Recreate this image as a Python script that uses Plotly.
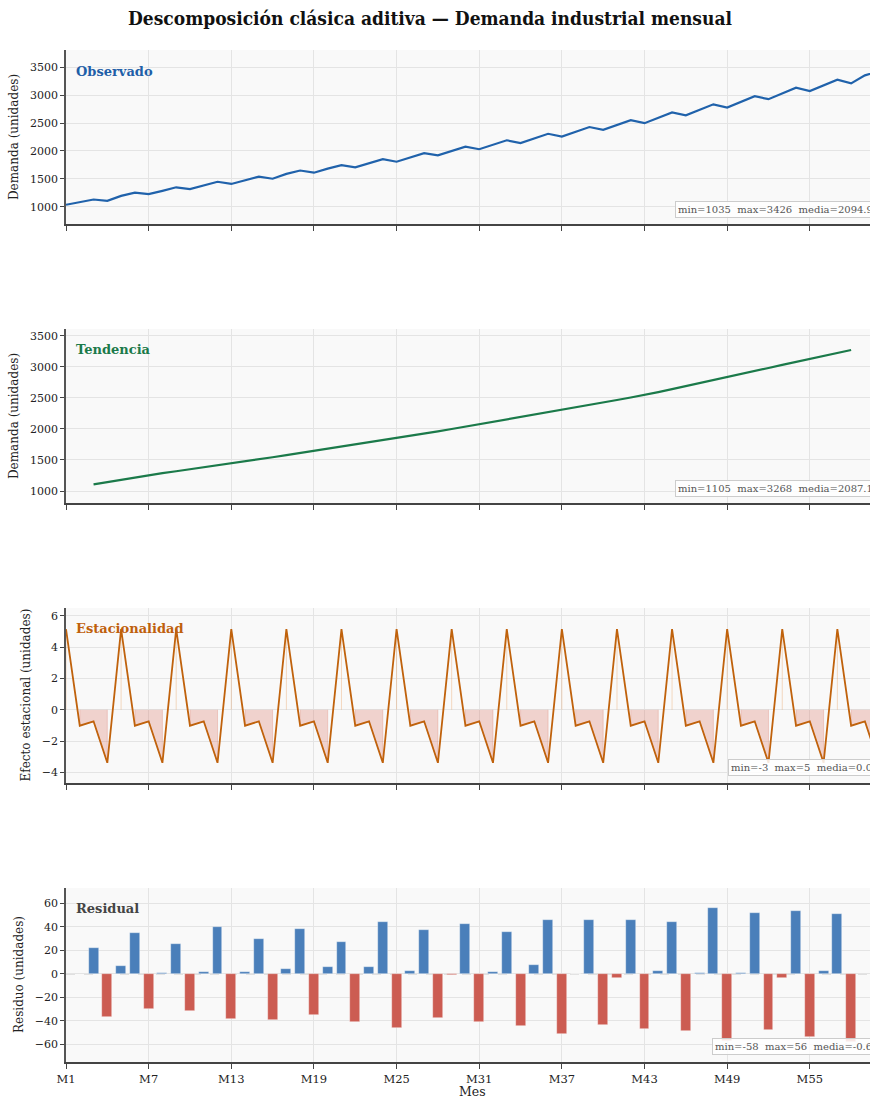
import plotly.graph_objects as go

W, H = 870, 1099

months = [f"M{i}" for i in range(1, 61)]
tick_months = ["M1", "M7", "M13", "M19", "M25", "M31", "M37", "M43", "M49", "M55"]

observed = [1035, 1078, 1129, 1105, 1194, 1253, 1225, 1284, 1348, 1316,
            1380, 1447, 1408, 1475, 1538, 1502, 1588, 1649, 1610, 1682,
            1745, 1705, 1786, 1854, 1807, 1888, 1960, 1920, 2002, 2077,
            2031, 2109, 2191, 2142, 2232, 2308, 2257, 2343, 2429, 2378,
            2467, 2551, 2498, 2592, 2690, 2638, 2735, 2836, 2778, 2880,
            2981, 2928, 3032, 3133, 3075, 3176, 3279, 3211, 3355, 3426]

trend = [None, None, 1108, 1145, 1182, 1219, 1256, 1287, 1318, 1349,
         1379, 1410, 1441, 1475, 1509, 1544, 1578, 1612, 1646, 1680,
         1713, 1747, 1781, 1814, 1848, 1886, 1923, 1961, 1998, 2036,
         2073, 2111, 2150, 2188, 2226, 2265, 2303, 2344, 2384, 2425,
         2465, 2506, 2546, 2593, 2641, 2688, 2735, 2783, 2830, 2880,
         2930, 2980, 3030, 3080, 3130, 3177, 3223, 3270, None, None]

seasonal = [5.15, -1.02, -0.74, -3.39, 5.15, -1.02, -0.74, -3.39, 5.15, -1.02,
            -0.74, -3.39, 5.15, -1.02, -0.74, -3.39, 5.15, -1.02, -0.74, -3.39,
            5.15, -1.02, -0.74, -3.39, 5.15, -1.02, -0.74, -3.39, 5.15, -1.02,
            -0.74, -3.39, 5.15, -1.02, -0.74, -3.39, 5.15, -1.02, -0.74, -3.39,
            5.15, -1.02, -0.74, -3.39, 5.15, -1.02, -0.74, -3.39, 5.15, -1.02,
            -0.74, -3.39, 5.15, -1.02, -0.74, -3.39, 5.15, -1.02, -0.74, -3.39]

residual = [None, None, 22, -37, 7, 35, -30, 0.5, 25, -32,
            1.5, 40, -38, 1.5, 30, -39, 4.5, 38, -35, 5.4,
            27, -40.6, 5.4, 43.7, -46, 2.6, 37.4, -37.2, -0.8, 42,
            -40.9, 1.7, 35.7, -44.5, 7.1, 46, -50.8, -0.3, 45.4, -43.7,
            -3.4, 46, -47, 2.6, 43.7, -49, 0.9, 56.2, -57, 0.6,
            51.6, -48.2, -3.4, 53.6, -53.9, 2.8, 51, -58, None, None]

stats_text = ["min=1035\u00a0\u00a0max=3426\u00a0\u00a0media=2094.9",
              "min=1105\u00a0\u00a0max=3268\u00a0\u00a0media=2087.1",
              "min=-3\u00a0\u00a0max=5\u00a0\u00a0media=0.0",
              "min=-58\u00a0\u00a0max=56\u00a0\u00a0media=-0.6"]
panel_titles = ["Observado", "Tendencia", "Estacionalidad", "Residual"]
panel_colors = ["#1f5fa8", "#1b7a4a", "#bf600c", "#444444"]
ytitles = ["Demanda (unidades)", "Demanda (unidades)",
           "Efecto estacional (unidades)", "Residuo (unidades)"]

FONT = "DejaVu Serif"

def px(x):
    return x / W

def py(y):
    return 1 - y / H

# panel pixel geometry (top, bottom)
panels = [(50, 224), (329, 503), (608, 783), (888, 1062)]
yranges = [[690, 3810], [807, 3608], [-4.68, 6.5], [-75, 73]]
ydticks = [500, 500, 2, 20]
stats_pos = [(675, 209), (675, 488), (728, 767), (712, 1046)]
ytitle_x = [14, 14, 25, 19]
label_y = [71, 350, 628, 908]

fig = go.Figure()

# Observed
fig.add_trace(go.Scatter(x=months, y=observed, mode="lines",
                         line=dict(color="#2062ab", width=2.2),
                         xaxis="x", yaxis="y", hoverinfo="skip"))
# Trend
fig.add_trace(go.Scatter(x=months, y=trend, mode="lines",
                         line=dict(color="#1b7a4a", width=2.2),
                         xaxis="x2", yaxis="y2", hoverinfo="skip"))

# Seasonal negative fill: one closed polygon per run of negative values
poly_x, poly_y = [], []
run = []
for m, v in list(zip(months, seasonal)) + [(None, None)]:
    if v is not None and v < 0:
        run.append((m, v))
    else:
        if run:
            poly_x += [run[0][0]] + [r[0] for r in run] + [run[-1][0], None]
            poly_y += [0] + [r[1] for r in run] + [0, None]
        run = []
fig.add_trace(go.Scatter(x=poly_x, y=poly_y, mode="lines", fill="toself",
                         fillcolor="rgba(214,96,77,0.25)",
                         line=dict(color="rgba(214,96,77,0.3)", width=0.8),
                         xaxis="x3", yaxis="y3", hoverinfo="skip"))
# Seasonal positive thin fills (single points)
pos_x, pos_y = [], []
for m, v in zip(months, seasonal):
    if v > 0:
        pos_x += [m, m, None]
        pos_y += [0, v, None]
fig.add_trace(go.Scatter(x=pos_x, y=pos_y, mode="lines",
                         line=dict(color="rgba(230,140,60,0.3)", width=1),
                         xaxis="x3", yaxis="y3", hoverinfo="skip"))
fig.add_trace(go.Scatter(x=months, y=seasonal, mode="lines",
                         line=dict(color="#c0620c", width=1.8),
                         xaxis="x3", yaxis="y3", hoverinfo="skip"))
# Residual bars
bar_colors = [("#4a7fba" if (v is not None and v >= 0) else "#cc5c52") for v in residual]
fig.add_trace(go.Bar(x=months, y=residual, width=0.72,
                     marker=dict(color=bar_colors, line=dict(color="rgba(255,255,255,0.6)", width=0.6)),
                     xaxis="x4", yaxis="y4", hoverinfo="skip"))

layout = dict(
    width=W, height=H,
    margin=dict(l=0, r=0, t=0, b=0),
    paper_bgcolor="white", plot_bgcolor="#f9f9f9",
    showlegend=False,
    font=dict(family=FONT, size=11, color="#222"),
    title=dict(text="<b>Descomposición clásica aditiva — Demanda industrial mensual</b>",
               x=px(430), xanchor="center", y=py(18), yanchor="middle",
               font=dict(family="DejaVu Serif Condensed, DejaVu Serif", size=19, color="#111")),
    bargap=0,
)

annotations = []
shapes = []
for k in range(4):
    sfx = "" if k == 0 else str(k + 1)
    top, bot = panels[k]
    layout["xaxis" + sfx] = dict(
        domain=[px(66), 1], anchor="y" + sfx, type="category",
        categoryorder="array", categoryarray=months,
        range=[0, 58.37], tickmode="array", tickvals=tick_months,
        ticktext=tick_months, showticklabels=(k == 3),
        ticks="outside", ticklen=5, tickwidth=1.2, tickcolor="#444",
        showline=True, linecolor="#444", linewidth=1.6,
        showgrid=True, gridcolor="#e4e4e4", gridwidth=1, zeroline=False,
        tickfont=dict(family=FONT, size=11.5, color="#222"), automargin=False,
    )
    layout["yaxis" + sfx] = dict(
        domain=[py(bot), py(top)], anchor="x" + sfx,
        range=yranges[k], dtick=ydticks[k], tick0=0,
        ticks="outside", ticklen=4, tickwidth=1.2, tickcolor="#444",
        showline=True, linecolor="#555", linewidth=1.6,
        showgrid=True, gridcolor="#e4e4e4", gridwidth=1, zeroline=False,
        tickfont=dict(family=FONT, size=11, color="#222"), automargin=False,
    )
    annotations.append(dict(
        text="<b>" + panel_titles[k] + "</b>", x=px(74), y=py(label_y[k]),
        xref="paper", yref="paper", xanchor="left", yanchor="middle",
        showarrow=False, font=dict(family=FONT, size=13, color=panel_colors[k])))
    annotations.append(dict(
        text=ytitles[k], x=px(ytitle_x[k]), y=py((top + bot) / 2),
        xref="paper", yref="paper", xanchor="center", yanchor="middle",
        textangle=-90, showarrow=False, font=dict(family=FONT, size=12, color="#222")))
    sx, sy = stats_pos[k]
    annotations.append(dict(
        text=stats_text[k], x=px(sx), y=py(sy), xref="paper", yref="paper",
        xanchor="left", yanchor="middle", showarrow=False,
        font=dict(family=FONT, size=10, color="#555"),
        bgcolor="rgba(255,255,255,0.85)", bordercolor="#cccccc", borderwidth=1, borderpad=2))

annotations.append(dict(text="Mes", x=px(472), y=py(1091), xref="paper", yref="paper",
                        xanchor="center", yanchor="middle", showarrow=False,
                        font=dict(family=FONT, size=12.5, color="#222")))

shapes.append(dict(type="line", xref="x4 domain", yref="y4", x0=0, x1=1, y0=0, y1=0,
                   line=dict(color="#aaaaaa", width=1, dash="dash"), layer="below"))

layout["annotations"] = annotations
layout["shapes"] = shapes
fig.update_layout(**layout)

fig.write_html("out.html", config={"displayModeBar": False},
               post_script="document.body.style.margin='0';document.body.style.overflow='hidden';")
